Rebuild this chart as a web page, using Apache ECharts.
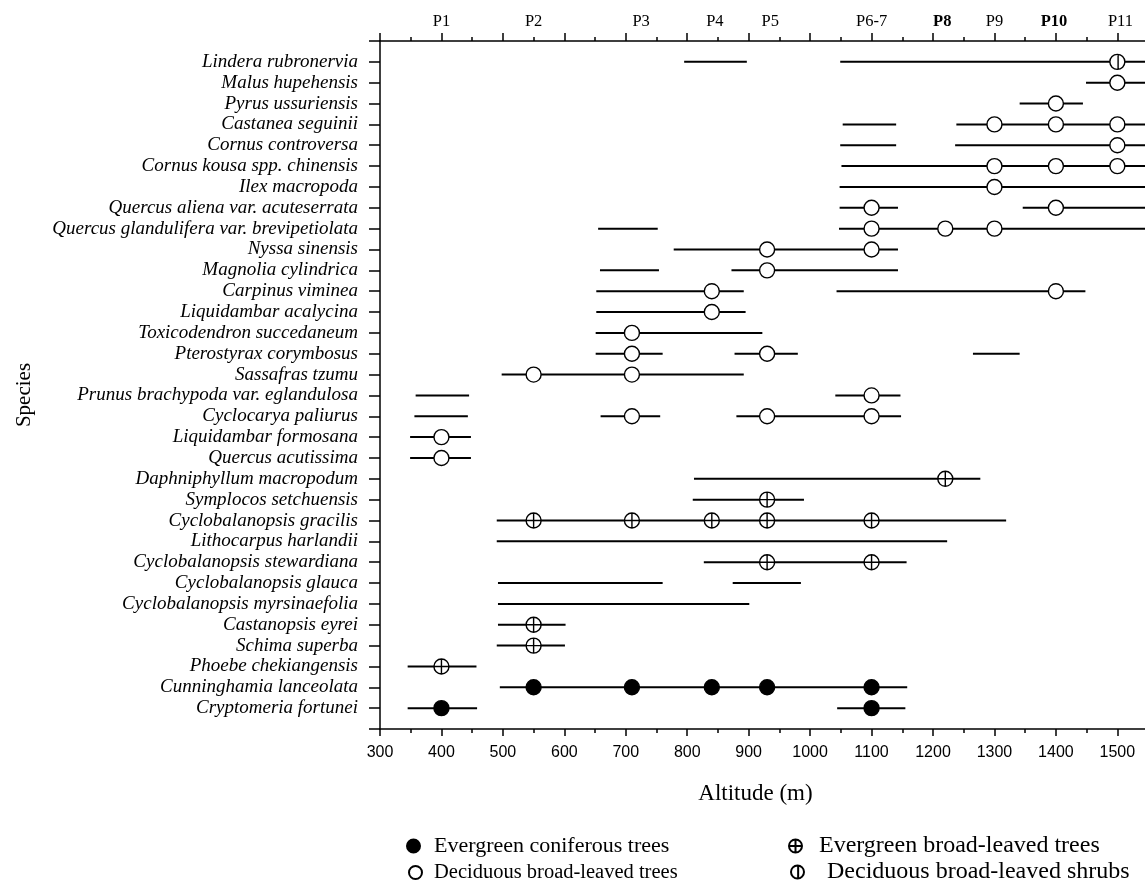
<!DOCTYPE html>
<html><head><meta charset="utf-8">
<script src="https://cdn.jsdelivr.net/npm/echarts@6/dist/echarts.min.js"></script>
<style>html,body{margin:0;padding:0;background:#fff}#c{width:1145px;height:889px}</style>
</head><body><div id="c"></div>
<script>
const species = [
 'Lindera rubronervia','Malus hupehensis','Pyrus ussuriensis','Castanea seguinii','Cornus controversa',
 'Cornus kousa spp. chinensis','Ilex macropoda','Quercus aliena var. acuteserrata','Quercus glandulifera var. brevipetiolata',
 'Nyssa sinensis','Magnolia cylindrica','Carpinus viminea','Liquidambar acalycina','Toxicodendron succedaneum',
 'Pterostyrax corymbosus','Sassafras tzumu','Prunus brachypoda var. eglandulosa','Cyclocarya paliurus',
 'Liquidambar formosana','Quercus acutissima','Daphniphyllum macropodum','Symplocos setchuensis',
 'Cyclobalanopsis gracilis','Lithocarpus harlandii','Cyclobalanopsis stewardiana','Cyclobalanopsis glauca',
 'Cyclobalanopsis myrsinaefolia','Castanopsis eyrei','Schima superba','Phoebe chekiangensis',
 'Cunninghamia lanceolata','Cryptomeria fortunei'];

// altitude ranges [species, from, to]
const ranges = [
 ['Lindera rubronervia', 795, 897], ['Lindera rubronervia', 1049, 1545],
 ['Malus hupehensis', 1449, 1545],
 ['Pyrus ussuriensis', 1341, 1444],
 ['Castanea seguinii', 1053, 1140], ['Castanea seguinii', 1238, 1545],
 ['Cornus controversa', 1049, 1140], ['Cornus controversa', 1236, 1545],
 ['Cornus kousa spp. chinensis', 1051, 1545],
 ['Ilex macropoda', 1048, 1545],
 ['Quercus aliena var. acuteserrata', 1048, 1143], ['Quercus aliena var. acuteserrata', 1346, 1545],
 ['Quercus glandulifera var. brevipetiolata', 655, 752], ['Quercus glandulifera var. brevipetiolata', 1047, 1545],
 ['Nyssa sinensis', 778, 1143],
 ['Magnolia cylindrica', 658, 754], ['Magnolia cylindrica', 872, 1143],
 ['Carpinus viminea', 652, 892], ['Carpinus viminea', 1043, 1448],
 ['Liquidambar acalycina', 652, 895],
 ['Toxicodendron succedaneum', 651, 922], ['Toxicodendron succedaneum', 822, 922],
 ['Pterostyrax corymbosus', 651, 760], ['Pterostyrax corymbosus', 877, 980], ['Pterostyrax corymbosus', 1265, 1341],
 ['Sassafras tzumu', 498, 892],
 ['Prunus brachypoda var. eglandulosa', 358, 445], ['Prunus brachypoda var. eglandulosa', 1041, 1147],
 ['Cyclocarya paliurus', 356, 443], ['Cyclocarya paliurus', 659, 756], ['Cyclocarya paliurus', 880, 1148],
 ['Liquidambar formosana', 349, 448],
 ['Quercus acutissima', 349, 448],
 ['Daphniphyllum macropodum', 811, 1277],
 ['Symplocos setchuensis', 809, 990],
 ['Cyclobalanopsis gracilis', 490, 1319],
 ['Lithocarpus harlandii', 490, 1223],
 ['Cyclobalanopsis stewardiana', 827, 1157],
 ['Cyclobalanopsis glauca', 492, 760], ['Cyclobalanopsis glauca', 874, 985],
 ['Cyclobalanopsis myrsinaefolia', 492, 901],
 ['Castanopsis eyrei', 492, 602],
 ['Schima superba', 490, 601],
 ['Phoebe chekiangensis', 345, 457],
 ['Cunninghamia lanceolata', 495, 1158],
 ['Cryptomeria fortunei', 345, 458], ['Cryptomeria fortunei', 1044, 1155]
];

const coniferPoints = [
 ['Cunninghamia lanceolata', 550], ['Cunninghamia lanceolata', 710], ['Cunninghamia lanceolata', 840],
 ['Cunninghamia lanceolata', 930], ['Cunninghamia lanceolata', 1100],
 ['Cryptomeria fortunei', 400], ['Cryptomeria fortunei', 1100]
];
const evergreenBroadPoints = [
 ['Daphniphyllum macropodum', 1220], ['Symplocos setchuensis', 930],
 ['Cyclobalanopsis gracilis', 550], ['Cyclobalanopsis gracilis', 710], ['Cyclobalanopsis gracilis', 840],
 ['Cyclobalanopsis gracilis', 930], ['Cyclobalanopsis gracilis', 1100],
 ['Cyclobalanopsis stewardiana', 930], ['Cyclobalanopsis stewardiana', 1100],
 ['Castanopsis eyrei', 550], ['Schima superba', 550], ['Phoebe chekiangensis', 400]
];
const deciduousTreePoints = [
 ['Malus hupehensis', 1500], ['Pyrus ussuriensis', 1400],
 ['Castanea seguinii', 1300], ['Castanea seguinii', 1400], ['Castanea seguinii', 1500],
 ['Cornus controversa', 1500],
 ['Cornus kousa spp. chinensis', 1300], ['Cornus kousa spp. chinensis', 1400], ['Cornus kousa spp. chinensis', 1500],
 ['Ilex macropoda', 1300],
 ['Quercus aliena var. acuteserrata', 1100], ['Quercus aliena var. acuteserrata', 1400],
 ['Quercus glandulifera var. brevipetiolata', 1100], ['Quercus glandulifera var. brevipetiolata', 1220],
 ['Quercus glandulifera var. brevipetiolata', 1300],
 ['Nyssa sinensis', 930], ['Nyssa sinensis', 1100],
 ['Magnolia cylindrica', 930],
 ['Carpinus viminea', 840], ['Carpinus viminea', 1400],
 ['Liquidambar acalycina', 840],
 ['Toxicodendron succedaneum', 710],
 ['Pterostyrax corymbosus', 710], ['Pterostyrax corymbosus', 930],
 ['Sassafras tzumu', 550], ['Sassafras tzumu', 710],
 ['Prunus brachypoda var. eglandulosa', 1100],
 ['Cyclocarya paliurus', 710], ['Cyclocarya paliurus', 930], ['Cyclocarya paliurus', 1100],
 ['Liquidambar formosana', 400], ['Quercus acutissima', 400]
];
const deciduousShrubPoints = [['Lindera rubronervia', 1500]];

const plotNames = ['P1','P2','P3','P4','P5','P6-7','P8','P9','P10','P11'];
const plotLabelAltitudes = [400, 550, 725, 845, 935, 1100, 1215, 1300, 1397, 1505];

const majorTicks = [300, 400, 500, 600, 700, 800, 900, 1000, 1100, 1200, 1300, 1400, 1500];
const minorTicks = [350, 450, 550, 650, 750, 850, 950, 1050, 1150, 1250, 1350, 1450];

const legendNames = ['Evergreen coniferous trees','Evergreen broad-leaved trees','Deciduous broad-leaved trees','Deciduous broad-leaved shrubs'];

const SERIF = '"Liberation Serif","Times New Roman",serif';
const SANS = '"Liberation Sans",Arial,sans-serif';
const crossPath = 'path://M0,10 A10,10 0 1,1 20,10 A10,10 0 1,1 0,10 Z M10,0 L10,20 M0,10 L20,10';
const barPath = 'path://M0,10 A10,10 0 1,1 20,10 A10,10 0 1,1 0,10 Z M11,0 L11,20';

const rowIndex = name => species.indexOf(name) + 1;
const toScatter = arr => arr.map(p => [p[1], rowIndex(p[0])]);

const chart = echarts.init(document.getElementById('c'), null, {renderer: 'canvas'});

function scatterSeries(name, pts, symbol, fill) {
  return {
    name, type: 'scatter', data: toScatter(pts), symbol, symbolSize: 15, z: 5,
    itemStyle: {color: fill, borderColor: '#000', borderWidth: 1.4, opacity: 1},
    emphasis: {disabled: true}
  };
}

function legendItem(name, left, top, fontSize, gap) {
  return {
    data: [name], left, top, orient: 'horizontal', itemWidth: 13, itemHeight: 13,
    selectedMode: false, padding: 0,
    textStyle: {fontFamily: SERIF, fontSize, color: '#000', padding: [0, 0, 0, gap]}
  };
}

const AX = {color: '#000', width: 1.5};
function tickAxis(position, values, len, showLine) {
  return {
    type: 'value', position, min: 300, max: 1545, interval: 100,
    axisLine: {show: showLine, onZero: false, lineStyle: AX},
    axisTick: {show: true, customValues: values, length: len, lineStyle: AX},
    splitLine: {show: false},
    axisLabel: {show: false}
  };
}

chart.setOption({
  animation: false,
  backgroundColor: '#fff',
  grid: {left: 380, right: 0, top: 41, bottom: 160, containLabel: false, outerBoundsMode: 'none'},
  legend: [
    legendItem(legendNames[0], 406, 835, 22, 9),
    legendItem(legendNames[1], 788, 834, 24, 12),
    legendItem(legendNames[2], 408, 862, 20.5, 7),
    legendItem(legendNames[3], 790, 860, 24, 18)
  ],
  xAxis: [
    {
      type: 'value', position: 'bottom', min: 300, max: 1545, interval: 100,
      axisLine: {show: true, onZero: false, lineStyle: AX},
      axisTick: {show: true, customValues: majorTicks, length: 7, lineStyle: AX},
      splitLine: {show: false},
      axisLabel: {customValues: majorTicks, formatter: v => String(v), fontFamily: SANS, fontSize: 16, color: '#000', margin: 16},
      name: 'Altitude (m)', nameLocation: 'middle', nameGap: 53,
      nameTextStyle: {fontFamily: SERIF, fontSize: 23, color: '#000', padding: [0, 14, 0, 0]}
    },
    {
      type: 'value', position: 'top', min: 300, max: 1545, interval: 100,
      axisLine: {show: true, onZero: false, lineStyle: AX},
      axisTick: {show: true, customValues: majorTicks, length: 8, lineStyle: AX},
      splitLine: {show: false},
      axisLabel: {
        customValues: plotLabelAltitudes,
        formatter: v => {
          const n = plotNames[plotLabelAltitudes.indexOf(v)] || '';
          return (n === 'P8' || n === 'P10') ? '{b|' + n + '}' : n;
        },
        rich: {b: {fontFamily: SERIF, fontSize: 16.5, fontWeight: 'bold', color: '#000'}},
        fontFamily: SERIF, fontSize: 16.5, color: '#000', margin: 11
      }
    },
    tickAxis('bottom', minorTicks, 4, false),
    tickAxis('top', minorTicks, 4, false)
  ],
  yAxis: {
    type: 'category', inverse: true, boundaryGap: false,
    data: [''].concat(species, [' ']),
    axisLine: {show: true, onZero: false, lineStyle: AX},
    axisTick: {show: true, length: 11, interval: 0, lineStyle: AX},
    splitLine: {show: false},
    axisLabel: {interval: 0, fontFamily: SERIF, fontStyle: 'italic', fontSize: 19, color: '#000', margin: 22},
    name: 'Species', nameLocation: 'middle', nameRotate: 90, nameGap: 345,
    nameTextStyle: {fontFamily: SERIF, fontSize: 21, color: '#000', padding: [0, 20, 0, 0]}
  },
  series: [
    {
      type: 'custom', silent: true, z: 1,
      data: ranges.map(r => [rowIndex(r[0]), r[1], r[2]]),
      encode: {y: 0, x: [1, 2]},
      renderItem: (params, api) => {
        const y = api.value(0);
        const a = api.coord([api.value(1), y]);
        const b = api.coord([api.value(2), y]);
        return {type: 'line', shape: {x1: a[0], y1: a[1], x2: b[0], y2: b[1]},
                style: {stroke: '#000', lineWidth: 2}};
      }
    },
    scatterSeries(legendNames[0], coniferPoints, 'circle', '#000'),
    scatterSeries(legendNames[1], evergreenBroadPoints, crossPath, '#fff'),
    scatterSeries(legendNames[2], deciduousTreePoints, 'circle', '#fff'),
    scatterSeries(legendNames[3], deciduousShrubPoints, barPath, '#fff')
  ]
});
</script></body></html>
